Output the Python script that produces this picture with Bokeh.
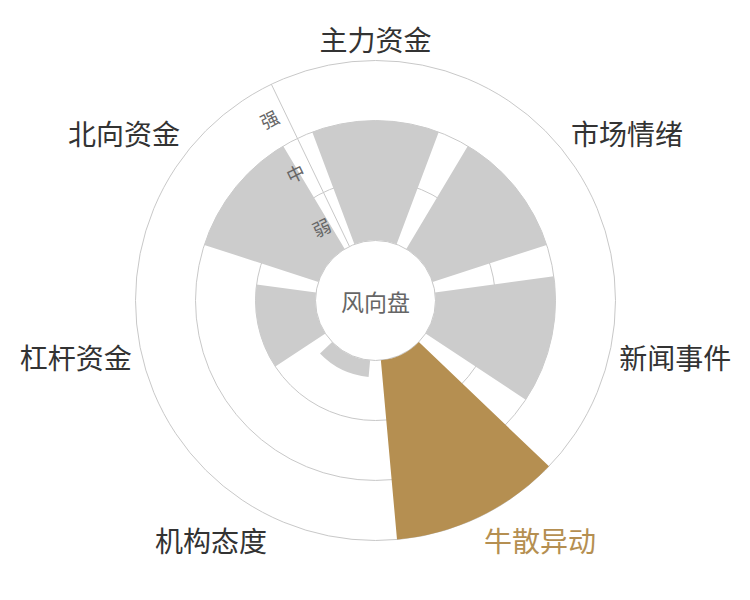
import math
from bokeh.plotting import figure
from bokeh.models import Range1d
from bokeh.embed import file_html
from bokeh.resources import INLINE
from bokeh.core.properties import value

# ---- data ----
categories = ["主力资金", "市场情绪", "新闻事件", "牛散异动", "机构态度", "杠杆资金", "北向资金"]
values = [2.0, 2.0, 2.0, 3.0, 0.28, 1.0, 2.0]
highlight = "牛散异动"
level_labels = ["弱", "中", "强"]
center_label = "风向盘"

# ---- style / geometry ----
R0 = 60.0          # inner hole radius (px)
STEP = 60.0        # px per level
GOLD = "#B58F51"
GREY = "#CCCCCC"
GRID = "#C8C8C8"
FONT = "Noto Sans CJK SC"
LABEL_FS = 28

n = len(categories)
sector = 360.0 / n
bar_w = sector * 0.8

def rad(v):
    return R0 + STEP * v

def math_angle(compass_deg):
    return math.radians(90.0 - compass_deg)

p = figure(width=734, height=584, output_backend="svg", toolbar_location=None,
           x_range=Range1d(-375, 359), y_range=Range1d(-284, 300),
           min_border=0, tools="")
p.axis.visible = False
p.grid.visible = False
p.outline_line_color = None
p.background_fill_color = "white"
p.border_fill_color = "white"

# grid circles
levels = list(range(1, len(level_labels) + 1))
p.circle(x=[0] * (len(levels) + 1), y=[0] * (len(levels) + 1),
         radius=[R0] + [rad(k) for k in levels],
         fill_color=None, line_color=GRID, line_width=1)

# radial axis spoke (between last and first category)
spoke = -sector / 2.0
a = math_angle(spoke)
p.segment(x0=[R0 * math.cos(a)], y0=[R0 * math.sin(a)],
          x1=[rad(levels[-1]) * math.cos(a)], y1=[rad(levels[-1]) * math.sin(a)],
          line_color=GRID, line_width=1)

# bars
starts, ends, outers, colors = [], [], [], []
for i, (c, v) in enumerate(zip(categories, values)):
    th = i * sector
    starts.append(math_angle(th + bar_w / 2))
    ends.append(math_angle(th - bar_w / 2))
    outers.append(rad(v))
    colors.append(GOLD if c == highlight else GREY)
p.annular_wedge(x=0, y=0, inner_radius=R0, outer_radius=outers,
                start_angle=starts, end_angle=ends,
                fill_color=colors, line_color=None)

# level labels along the spoke
ux, uy = math.cos(a), math.sin(a)
px_, py_ = -uy, ux  # perpendicular (to the left of outward direction)
off = 17.0
lx, ly = [], []
for k in levels:
    r = rad(k - 0.5)
    lx.append(r * ux + off * px_)
    ly.append(r * uy + off * py_)
p.text(x=lx, y=ly, text=level_labels, angle=a - math.pi / 2,
       text_align="center", text_baseline="middle",
       text_font=value(FONT), text_font_size="18px", text_color="#666666")

# category labels (ECharts-like placement)
RL = rad(levels[-1]) + 10
for i, c in enumerate(categories):
    th = math.radians(i * sector)
    sx, cy = math.sin(th), math.cos(th)
    x = RL * sx
    y = RL * cy
    align = "center" if abs(sx) < 0.3 else ("left" if sx > 0 else "right")
    if abs(cy) < 0.3:
        y -= 1
    elif cy > 0:
        y += 12
    else:
        y -= 14
    p.text(x=[x], y=[y], text=[c], text_align=align, text_baseline="middle",
           text_font=value(FONT), text_font_size=f"{LABEL_FS}px",
           text_color=GOLD if c == highlight else "#333333")

# center label
p.text(x=[0], y=[0], text=[center_label], text_align="center", text_baseline="middle",
       text_font=value(FONT), text_font_size="23px", text_color="#666666")

open("out.html", "w").write(file_html(p, INLINE))
